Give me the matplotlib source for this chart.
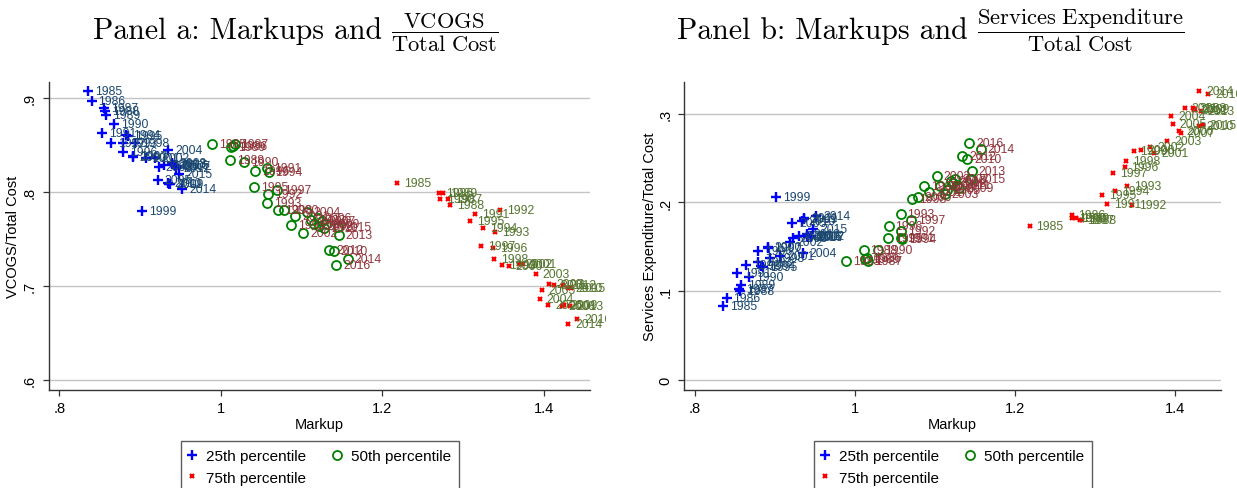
import matplotlib
matplotlib.use("Agg")
import matplotlib.pyplot as plt
from matplotlib.transforms import Bbox, TransformedBbox

plt.rcParams['font.family'] = ['Liberation Sans', 'DejaVu Sans']
plt.rcParams['mathtext.fontset'] = 'cm'

years = list(range(1985, 2017))

# 25th percentile firm
markup_p25 = [0.836, 0.840, 0.855, 0.857, 0.858, 0.868, 0.853, 0.864, 0.879, 0.883,
              0.885, 0.879, 0.891, 0.894, 0.902, 0.891, 0.907, 0.919, 0.923, 0.935,
              0.922, 0.930, 0.945, 0.940, 0.936, 0.934, 0.937, 0.945, 0.940, 0.952,
              0.948, 0.942]
vcogs_p25 = [0.907, 0.897, 0.889, 0.886, 0.882, 0.872, 0.863, 0.852, 0.852, 0.861,
             0.860, 0.843, 0.838, 0.852, 0.780, 0.837, 0.836, 0.836, 0.827, 0.845,
             0.813, 0.829, 0.828, 0.831, 0.809, 0.810, 0.808, 0.826, 0.830, 0.8035,
             0.8195, 0.829]
serv_p25 = [0.083, 0.092, 0.102, 0.100, 0.107, 0.116, 0.120, 0.130, 0.133, 0.128,
            0.127, 0.145, 0.149, 0.137, 0.206, 0.150, 0.140, 0.155, 0.160, 0.143,
            0.177, 0.162, 0.161, 0.162, 0.181, 0.179, 0.182, 0.162, 0.164, 0.1846,
            0.170, 0.161]

# median firm
markup_p50 = [0.989, 1.015, 1.017, 1.011, 1.013, 1.029, 1.057, 1.058, 1.057, 1.059,
              1.0415, 1.042, 1.070, 1.071, 1.0865, 1.0786, 1.092, 1.102, 1.112, 1.1063,
              1.115, 1.120, 1.125, 1.122, 1.130, 1.140, 1.128, 1.134, 1.146, 1.157,
              1.145, 1.143]
vcogs_p50 = [0.8506, 0.8494, 0.8514, 0.8344, 0.8480, 0.8320, 0.8255, 0.7980, 0.7883, 0.8213,
             0.8049, 0.8220, 0.8024, 0.7810, 0.7645, 0.7810, 0.7745, 0.7564, 0.7700, 0.7787,
             0.7660, 0.7720, 0.7690, 0.7640, 0.7660, 0.7368, 0.7620, 0.7379, 0.7538, 0.7290,
             0.7628, 0.7219]
serv_p50 = [0.1340, 0.1376, 0.1345, 0.1466, 0.1360, 0.1466, 0.1600, 0.1677, 0.1872, 0.1590,
            0.1602, 0.1734, 0.1805, 0.2041, 0.2185, 0.2067, 0.2120, 0.2297, 0.2100, 0.2180,
            0.2140, 0.2240, 0.2270, 0.2220, 0.2160, 0.2485, 0.2200, 0.2523, 0.2354, 0.2605,
            0.2260, 0.2673]

# 75th percentile firm
markup_p75 = [1.218, 1.2705, 1.2816, 1.2837, 1.2754, 1.2713, 1.315, 1.3457, 1.3395, 1.3246,
              1.3087, 1.3366, 1.322, 1.3386, 1.348, 1.3567, 1.3735, 1.369, 1.390, 1.395,
              1.397, 1.405, 1.4066, 1.4219, 1.4248, 1.430, 1.412, 1.423, 1.432, 1.430,
              1.434, 1.441]
vcogs_p75 = [0.8099, 0.7993, 0.7929, 0.7865, 0.7993, 0.7929, 0.7769, 0.7804, 0.7574, 0.7617,
             0.7691, 0.7404, 0.7421, 0.7290, 0.7227, 0.7213, 0.7230, 0.7235, 0.7131, 0.6857,
             0.6953, 0.6801, 0.7024, 0.6790, 0.6795, 0.6979, 0.7014, 0.7010, 0.6790, 0.6596,
             0.6975, 0.6652]
serv_p75 = [0.174, 0.186, 0.1797, 0.1797, 0.1824, 0.1824, 0.1985, 0.1974, 0.2185, 0.2124,
            0.2079, 0.2399, 0.2331, 0.2462, 0.2575, 0.2586, 0.2560, 0.2624, 0.2692, 0.2974,
            0.2887, 0.2810, 0.2780, 0.3064, 0.3050, 0.2861, 0.3064, 0.3040, 0.3026, 0.3256,
            0.2868, 0.3218]

series = [
    ('25th percentile', markup_p25, vcogs_p25, serv_p25,
     dict(marker='+', color='#0000ff', ms=7.5, mew=1.7, mfc='none'), '#1a476f'),
    ('50th percentile', markup_p50, vcogs_p50, serv_p50,
     dict(marker='o', color='#008000', ms=6.5, mew=1.3, mfc='none'), '#90353b'),
    ('75th percentile', markup_p75, vcogs_p75, serv_p75,
     dict(marker='x', color='#ff0000', ms=3.5, mew=1.6, mfc='none'), '#55752f'),
]

W, H = 1237, 489
fig = plt.figure(figsize=(W / 100, H / 100), dpi=100)
top, bot = 83, 390.7
ax_a = fig.add_axes([48.8 / W, (H - bot) / H, (590 - 48.8) / W, (bot - top) / H])
ax_b = fig.add_axes([684.2 / W, (H - bot) / H, (1221 - 684.2) / W, (bot - top) / H])

clip_a = TransformedBbox(Bbox([[0, 0], [606 / W, 1]]), fig.transFigure)


def style_ax(ax, ylim, yticks, ylabels, ylabel, ylab_x):
    ax.set_xlim(0.787, 1.457)
    ax.set_ylim(*ylim)
    ax.set_xticks([0.8, 1, 1.2, 1.4])
    ax.set_xticklabels(['.8', '1', '1.2', '1.4'])
    ax.set_yticks(yticks)
    ax.set_yticklabels(ylabels, rotation=90, va='center')
    ax.tick_params(length=4.3, width=0.9, color='#333333', labelsize=10.5, pad=4)
    ax.tick_params(axis='y', pad=4.3)
    for s in ['top', 'right']:
        ax.spines[s].set_visible(False)
    for s in ['left', 'bottom']:
        ax.spines[s].set_color('#333333')
        ax.spines[s].set_linewidth(1.0)
    ax.grid(axis='y', color='#c4c4c4', lw=1.0)
    ax.set_axisbelow(True)
    ax.set_xlabel('Markup', fontsize=10.5)
    ax.xaxis.set_label_coords(0.5, -0.088)
    ax.set_ylabel(ylabel, fontsize=10.5)
    ax.yaxis.set_label_coords(ylab_x, 0.5)


handles = []
for name, mk, ya, yb, mstyle, lcol in series:
    h, = ax_a.plot(mk, ya, ls='none', label=name, **mstyle)
    ax_b.plot(mk, yb, ls='none', **mstyle)
    handles.append(h)
    for yr, x, y1, y2 in zip(years, mk, ya, yb):
        t = ax_a.annotate(str(yr), (x, y1), xytext=(5, 0), textcoords='offset points',
                          va='center', ha='left', fontsize=8.8, color=lcol,
                          annotation_clip=False)
        t.set_clip_box(clip_a)
        t.set_clip_on(True)
        ax_b.annotate(str(yr), (x, y2), xytext=(5, 0), textcoords='offset points',
                      va='center', ha='left', fontsize=8.8, color=lcol,
                      annotation_clip=False)

style_ax(ax_a, (0.5897, 0.917), [0.6, 0.7, 0.8, 0.9], ['.6', '.7', '.8', '.9'],
         'VCOGS/Total Cost', -0.053)
style_ax(ax_b, (-0.0109, 0.3357), [0, 0.1, 0.2, 0.3], ['0', '.1', '.2', '.3'],
         'Services Expenditure/Total Cost', -0.0507)

# titles: serif text followed by a fraction, like the LaTeX original
renderer = fig.canvas.get_renderer()
titles = [(93, 'Panel a: Markups and',
           r'$\dfrac{\mathrm{VCOGS}}{\mathrm{Total\ Cost}}$'),
          (677, 'Panel b: Markups and',
           r'$\dfrac{\mathrm{Services\ Expenditure}}{\mathrm{Total\ Cost}}$')]
for x0, head, frac in titles:
    t = fig.text(x0 / W, 1 - 39.3 / H, head, ha='left', va='baseline',
                 fontsize=21.5, family='cmr10')
    right = t.get_window_extent(renderer).x1
    fig.text((right + 9) / W, 1 - 37.5 / H, frac, ha='left', va='baseline',
             fontsize=16.2)

order = [handles[0], handles[2], handles[1]]
for cx in [320 / W, 953 / W]:
    leg = fig.legend(handles=order, labels=[h.get_label() for h in order], ncol=2,
                     loc='upper center', bbox_to_anchor=(cx, 1 - 441.7 / H),
                     bbox_transform=fig.transFigure, fontsize=11, frameon=True,
                     fancybox=False, edgecolor='#333333', handlelength=0.4,
                     handletextpad=0.7, columnspacing=1.85, borderpad=0.55,
                     labelspacing=0.5, borderaxespad=0)
    leg.get_frame().set_linewidth(1.0)

fig.savefig('out.png', dpi=100)
